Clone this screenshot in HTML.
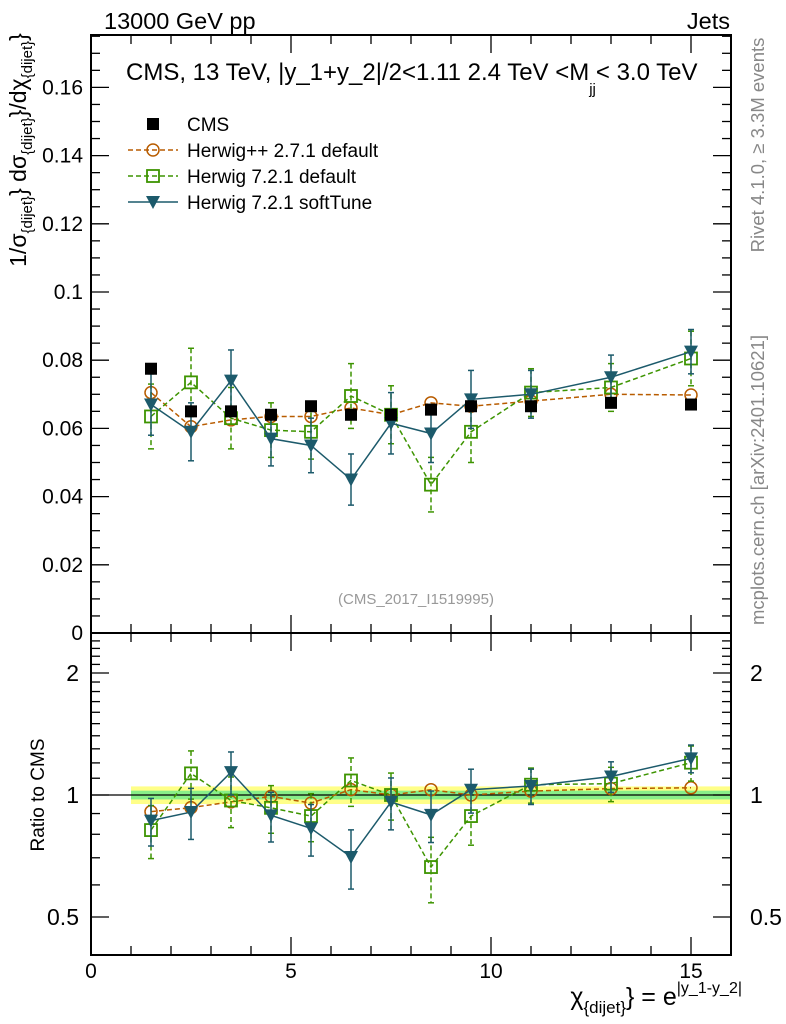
<!DOCTYPE html>
<html><head><meta charset="utf-8"><style>
body{margin:0;background:#fff;}
svg{display:block;font-family:"Liberation Sans","DejaVu Sans",sans-serif;}
</style></head><body>
<svg id="c" width="786" height="1024" viewBox="0 0 786 1024"></svg>
<script>
const xCats=[1.5,2.5,3.5,4.5,5.5,6.5,7.5,8.5,9.5,11,13,15];
const cmsVals=[0.0775,0.065,0.065,0.064,0.0665,0.064,0.064,0.0655,0.0665,0.0665,0.0675,0.067];
const hppVals=[0.0705,0.0605,0.0625,0.0635,0.0635,0.066,0.064,0.0675,0.0665,0.068,0.070,0.0698];
const h7Vals=[0.0635,0.0735,0.063,0.0595,0.059,0.0695,0.064,0.0435,0.059,0.0705,0.072,0.0805];
const h7Err=[0.0095,0.0100,0.0090,0.0080,0.0080,0.0095,0.0085,0.0080,0.0090,0.0070,0.0070,0.0080];
const stVals=[0.067,0.059,0.074,0.057,0.055,0.045,0.0615,0.0585,0.0685,0.070,0.075,0.0825];
const stErr=[0.0090,0.0085,0.0090,0.0080,0.0080,0.0075,0.0090,0.0085,0.0085,0.0070,0.0065,0.0065];
const yTicks=[0,0.02,0.04,0.06,0.08,0.1,0.12,0.14,0.16];
const yTickLabels=["0","0.02","0.04","0.06","0.08","0.1","0.12","0.14","0.16"];
const xTicks=[0,5,10,15];
const rTicks=[0.5,1,2];
const bandYellow=0.05, bandGreen=0.025;

const NS="http://www.w3.org/2000/svg";
const svg=document.getElementById('c');
const X=v=>91+40*v;
const Y=v=>633-v*3410;
const RY=r=>795-122*Math.log2(r);
function el(tag,attrs,parent){const e=document.createElementNS(NS,tag);for(const k in attrs)e.setAttribute(k,attrs[k]);(parent||svg).appendChild(e);return e;}
function txt(s,attrs,parent){const e=el('text',attrs,parent);e.textContent=s;return e;}

let g=el('g',{});


el('rect',{x:X(1),y:RY(1+bandYellow),width:X(16)-X(1),height:RY(1-bandYellow)-RY(1+bandYellow),fill:'#ffff88'},g);
el('rect',{x:X(1),y:RY(1+bandGreen),width:X(16)-X(1),height:RY(1-bandGreen)-RY(1+bandGreen),fill:'#88ee88'},g);
el('line',{x1:91,x2:731,y1:RY(1),y2:RY(1),stroke:'#000','stroke-width':1.2},g);

let f=el('rect',{x:91,y:35,width:640,height:598,fill:'none',stroke:'#000','stroke-width':2});

f=el('rect',{x:91,y:633,width:640,height:322,fill:'none',stroke:'#000','stroke-width':2});


const tg=el('g',{stroke:'#000','stroke-width':1.3});

for(let i=0;i<=35;i++){const v=i*0.005,y=Y(v);if(y<35)break;const L=(i%4==0)?18:9;
 el('line',{x1:91,x2:91+L,y1:y,y2:y},tg);el('line',{x1:731,x2:731-L,y1:y,y2:y},tg);}
for(let v=0;v<=16;v++){const x=X(v);const L=(v%5==0)?18:9;
 el('line',{x1:x,x2:x,y1:35,y2:35+L},tg);el('line',{x1:x,x2:x,y1:633,y2:633-L},tg);
 el('line',{x1:x,x2:x,y1:633,y2:633+L},tg);el('line',{x1:x,x2:x,y1:955,y2:955-L},tg);}
const rMinor=[0.5,0.6,0.7,0.8,0.9,1,1.1,1.2,1.3,1.4,1.5,1.6,1.7,1.8,1.9,2,2.1,2.2,2.3,2.4];
rMinor.forEach(r=>{const y=RY(r);const L=rTicks.includes(r)?18:9;
 el('line',{x1:91,x2:91+L,y1:y,y2:y},tg);el('line',{x1:731,x2:731-L,y1:y,y2:y},tg);});

yTicks.forEach((v,i)=>{const t=txt(yTickLabels[i],{x:83,y:Y(v)+7,'font-size':21,'text-anchor':'end'});
 });
xTicks.forEach(v=>{const t=txt(String(v),{x:X(v),y:978,'font-size':21,'text-anchor':'middle'});
 });
rTicks.forEach(r=>{let t=txt(String(r),{x:79,y:RY(r)+8,'font-size':23,'text-anchor':'end'});
 
 t=txt(String(r),{x:750,y:RY(r)+8,'font-size':23});
 });

function marker(type,x,y,color,parent){
 if(type==='sq') el('rect',{x:x-6,y:y-6,width:12,height:12,fill:color},parent);
 else if(type==='circ') el('circle',{cx:x,cy:y,r:6,fill:'none',stroke:color,'stroke-width':1.5},parent);
 else if(type==='osq') el('rect',{x:x-6,y:y-6,width:12,height:12,fill:'none',stroke:color,'stroke-width':1.8},parent);
 else if(type==='tri') el('path',{d:`M${x-7},${y-6}L${x+7},${y-6}L${x},${y+7}Z`,fill:color},parent);
}
function series(name,vals,errs,ref,type,color,dash,line){
 const gm=el('g',{});
 const gr=el('g',{});
 [[gm,(v)=>Y(v)],[gr,(v,i)=>RY(v/ref[i])]].forEach(([grp,fy])=>{
  const pts=vals.map((v,i)=>[X(xCats[i]),fy(v,i)]);
  if(line) el('polyline',{points:pts.map(p=>p.join(',')).join(' '),fill:'none',stroke:color,'stroke-width':1.5,'stroke-dasharray':dash||'none'},grp);
  if(errs) vals.forEach((v,i)=>{const x=X(xCats[i]);const y1=fy(v+errs[i],i),y2=fy(Math.max(v-errs[i],0.001),i);
   el('line',{x1:x,x2:x,y1:y1,y2:y2,stroke:color,'stroke-width':1.5,'stroke-dasharray':dash||'none'},grp);
   el('line',{x1:x-3,x2:x+3,y1:y1,y2:y1,stroke:color,'stroke-width':1.5},grp);
   el('line',{x1:x-3,x2:x+3,y1:y2,y2:y2,stroke:color,'stroke-width':1.5},grp);});
  pts.forEach(p=>marker(type,p[0],p[1],color,grp));
 });
}
series('herwig-pp-271',hppVals,null,cmsVals,'circ','#b85c00','5,3',true);
series('herwig-721-default',h7Vals,h7Err,cmsVals,'osq','#3d9400','5,3',true);
series('herwig-721-softtune',stVals,stErr,cmsVals,'tri','#1c5a6b',null,true);
const gc=el('g',{});
cmsVals.forEach((v,i)=>marker('sq',X(xCats[i]),Y(v),'#000',gc));

const lg=el('g',{});
const leg=[['CMS','sq','#000',null,false],['Herwig++ 2.7.1 default','circ','#b85c00','5,3',true],['Herwig 7.2.1 default','osq','#3d9400','5,3',true],['Herwig 7.2.1 softTune','tri','#1c5a6b',null,true]];
leg.forEach((l,i)=>{const y=124+i*26;
 if(l[4]) el('line',{x1:128,x2:178,y1:y,y2:y,stroke:l[2],'stroke-width':1.5,'stroke-dasharray':l[3]||'none'},lg);
 marker(l[1],153,y,l[2],lg);
 const t=txt(l[0],{x:187,y:y+7,'font-size':19},lg);});
</script>
<div style="position:absolute;left:0;top:0;width:786px;height:1024px;pointer-events:none">
<svg width="786" height="1024" style="position:absolute;left:0;top:0">
<text x="104" y="29" font-size="23.5">13000 GeV pp</text>
<text x="730" y="29" font-size="23.5" text-anchor="end">Jets</text>
<text x="126" y="80" font-size="24">CMS, 13 TeV, |y_1+y_2|/2&lt;1.11 2.4 TeV &lt;M<tspan font-size="15" dy="14">jj</tspan><tspan dy="-14">&lt; 3.0 TeV</tspan></text>
<text x="416" y="604" font-size="15" fill="#999" text-anchor="middle">(CMS_2017_I1519995)</text>
<text transform="translate(26,150) rotate(-90)" font-size="23" text-anchor="middle">1/σ<tspan font-size="15" dy="6">{dijet}</tspan><tspan dy="-6">} dσ</tspan><tspan font-size="15" dy="6">{dijet}</tspan><tspan dy="-6">}/dχ</tspan><tspan font-size="15" dy="6">{dijet}</tspan><tspan dy="-6">}</tspan></text>
<text transform="translate(44,795) rotate(-90)" font-size="19" text-anchor="middle">Ratio to CMS</text>
<text x="742" y="1005" font-size="25" text-anchor="end">χ<tspan font-size="17" dy="8">{dijet}</tspan><tspan dy="-8">} = e</tspan><tspan font-size="16" dy="-12">|y_1-y_2|</tspan></text>
<text transform="translate(764,145) rotate(-90)" font-size="18.5" fill="#888" text-anchor="middle">Rivet 4.1.0, ≥ 3.3M events</text>
<text transform="translate(764,480) rotate(-90)" font-size="18.5" fill="#888" text-anchor="middle">mcplots.cern.ch [arXiv:2401.10621]</text>
</svg></div>
</body></html>
